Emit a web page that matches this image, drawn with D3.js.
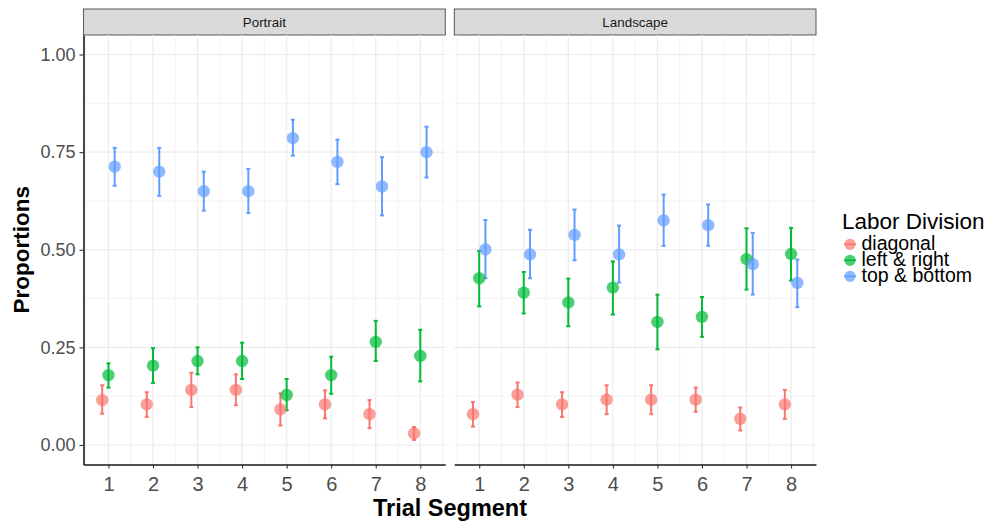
<!DOCTYPE html>
<html>
<head>
<meta charset="utf-8">
<script src="https://cdn.jsdelivr.net/npm/d3@7/dist/d3.min.js"></script>
<style>
  body { margin: 0; background: #fff; }
  svg { display: block; font-family: "Liberation Sans", Arial, sans-serif; }
</style>
</head>
<body>
<svg id="chart"></svg>
<script>
// data
var segments = [1, 2, 3, 4, 5, 6, 7, 8];
var facets = ["Portrait", "Landscape"];
var divisions = ["diagonal", "left & right", "top & bottom"];
var yTicks = [0, 0.25, 0.5, 0.75, 1];

var portraitDiagonal   = [0.115, 0.104, 0.141, 0.141, 0.091, 0.104, 0.079, 0.030];
var portraitDiagonalLo = [0.080, 0.072, 0.097, 0.102, 0.050, 0.068, 0.043, 0.013];
var portraitDiagonalHi = [0.153, 0.135, 0.185, 0.181, 0.132, 0.140, 0.115, 0.046];

var portraitLeftRight   = [0.179, 0.203, 0.215, 0.215, 0.128, 0.179, 0.264, 0.228];
var portraitLeftRightLo = [0.147, 0.159, 0.181, 0.169, 0.089, 0.131, 0.215, 0.163];
var portraitLeftRightHi = [0.209, 0.248, 0.250, 0.262, 0.169, 0.226, 0.318, 0.295];

var portraitTopBottom   = [0.713, 0.700, 0.650, 0.650, 0.786, 0.725, 0.662, 0.750];
var portraitTopBottomLo = [0.664, 0.638, 0.600, 0.594, 0.741, 0.668, 0.588, 0.685];
var portraitTopBottomHi = [0.761, 0.761, 0.700, 0.707, 0.833, 0.782, 0.737, 0.815];

var landscapeDiagonal   = [0.079, 0.129, 0.104, 0.116, 0.116, 0.116, 0.067, 0.104];
var landscapeDiagonalLo = [0.047, 0.097, 0.072, 0.079, 0.079, 0.085, 0.037, 0.067];
var landscapeDiagonalHi = [0.110, 0.160, 0.135, 0.153, 0.153, 0.147, 0.096, 0.141];

var landscapeLeftRight   = [0.427, 0.390, 0.365, 0.403, 0.315, 0.328, 0.476, 0.489];
var landscapeLeftRightLo = [0.355, 0.337, 0.304, 0.334, 0.245, 0.277, 0.398, 0.421];
var landscapeLeftRightHi = [0.497, 0.443, 0.426, 0.470, 0.385, 0.379, 0.555, 0.556];

var landscapeTopBottom   = [0.501, 0.488, 0.538, 0.488, 0.575, 0.563, 0.463, 0.415];
var landscapeTopBottomLo = [0.427, 0.427, 0.473, 0.416, 0.510, 0.510, 0.385, 0.353];
var landscapeTopBottomHi = [0.576, 0.551, 0.603, 0.562, 0.641, 0.616, 0.543, 0.475];

// build long-format rows
function rows(facet, division, mean, lo, hi) {
    return segments.map((s, i) => ({facet: facet, division: division, seg: s, mean: mean[i], lo: lo[i], hi: hi[i]}));
}
var data = [].concat(
    rows("Portrait", "diagonal", portraitDiagonal, portraitDiagonalLo, portraitDiagonalHi),
    rows("Portrait", "left & right", portraitLeftRight, portraitLeftRightLo, portraitLeftRightHi),
    rows("Portrait", "top & bottom", portraitTopBottom, portraitTopBottomLo, portraitTopBottomHi),
    rows("Landscape", "diagonal", landscapeDiagonal, landscapeDiagonalLo, landscapeDiagonalHi),
    rows("Landscape", "left & right", landscapeLeftRight, landscapeLeftRightLo, landscapeLeftRightHi),
    rows("Landscape", "top & bottom", landscapeTopBottom, landscapeTopBottomLo, landscapeTopBottomHi)
);

var width = 991, height = 523;
var plotTop = 35, plotBottom = 464.5;

var svg = d3.select("#chart")
    .attr("width", width)
    .attr("height", height);

var facetScale = d3.scaleBand()
    .domain(facets)
    .range([83.5, 816])
    .paddingInner(0.0243);
var bw = facetScale.bandwidth();

var x = d3.scaleLinear().domain([0.44, 8.56]).range([0, bw]);
var y = d3.scaleLinear().domain([-0.05, 1.05]).range([plotBottom, plotTop]);

var color = d3.scaleOrdinal()
    .domain(divisions)
    .range(["#F8766D", "#00BA38", "#619CFF"]);
var dodge = d3.scaleOrdinal()
    .domain(divisions)
    .range([-0.14, 0, 0.14]);

var minorX = d3.range(0.5, 9, 1);
var minorY = [0.125, 0.375, 0.625, 0.875];

facets.forEach(function(f, fi) {
    var g = svg.append("g").attr("transform", `translate(${facetScale(f)},0)`);

    // strip
    g.append("rect")
        .attr("x", 0).attr("y", 9)
        .attr("width", bw).attr("height", plotTop - 9)
        .attr("fill", "#d9d9d9")
        .attr("stroke", "#333")
        .attr("stroke-width", 0.8);
    g.append("text")
        .attr("x", bw / 2).attr("y", 27)
        .attr("text-anchor", "middle")
        .attr("font-size", "13.4px")
        .attr("fill", "#1a1a1a")
        .text(f);

    // grid
    g.selectAll(".minx").data(minorX).enter().append("line")
        .attr("x1", d => x(d)).attr("x2", d => x(d))
        .attr("y1", plotTop).attr("y2", plotBottom)
        .attr("stroke", "#ebebeb").attr("stroke-width", 0.6);
    g.selectAll(".miny").data(minorY).enter().append("line")
        .attr("x1", 0).attr("x2", bw)
        .attr("y1", d => y(d)).attr("y2", d => y(d))
        .attr("stroke", "#ebebeb").attr("stroke-width", 0.6);
    g.selectAll(".majx").data(segments).enter().append("line")
        .attr("x1", d => x(d)).attr("x2", d => x(d))
        .attr("y1", plotTop).attr("y2", plotBottom)
        .attr("stroke", "#ebebeb").attr("stroke-width", 1.2);
    g.selectAll(".majy").data(yTicks).enter().append("line")
        .attr("x1", 0).attr("x2", bw)
        .attr("y1", d => y(d)).attr("y2", d => y(d))
        .attr("stroke", "#ebebeb").attr("stroke-width", 1.2);

    var fd = data.filter(d => d.facet === f);

    // error bars
    var eb = g.selectAll(".eb").data(fd).enter().append("g")
        .attr("stroke", d => color(d.division))
        .attr("stroke-width", 2);
    eb.append("line")
        .attr("x1", d => x(d.seg + dodge(d.division)))
        .attr("x2", d => x(d.seg + dodge(d.division)))
        .attr("y1", d => y(d.lo)).attr("y2", d => y(d.hi));
    eb.append("line")
        .attr("x1", d => x(d.seg + dodge(d.division) - 0.045))
        .attr("x2", d => x(d.seg + dodge(d.division) + 0.045))
        .attr("y1", d => y(d.lo)).attr("y2", d => y(d.lo));
    eb.append("line")
        .attr("x1", d => x(d.seg + dodge(d.division) - 0.045))
        .attr("x2", d => x(d.seg + dodge(d.division) + 0.045))
        .attr("y1", d => y(d.hi)).attr("y2", d => y(d.hi));

    // points
    g.selectAll(".pt").data(fd).enter().append("circle")
        .attr("cx", d => x(d.seg + dodge(d.division)))
        .attr("cy", d => y(d.mean))
        .attr("r", 6.2)
        .attr("fill", d => color(d.division))
        .attr("fill-opacity", 0.7);

    // x axis
    var xa = g.append("g")
        .attr("transform", `translate(0,${plotBottom})`)
        .call(d3.axisBottom(x).tickValues(segments).tickSize(4).tickSizeOuter(0).tickPadding(8.5));
    xa.select(".domain").attr("stroke", "#1a1a1a").attr("stroke-width", 1.6);
    xa.selectAll(".tick line").attr("stroke", "#333").attr("stroke-width", 1.1);
    xa.selectAll(".tick text")
        .attr("font-size", "20px")
        .attr("font-family", "Liberation Sans, Arial, sans-serif")
        .attr("fill", "#4d4d4d");

    // y axis only on first facet
    if (fi === 0) {
        var ya = g.append("g")
            .call(d3.axisLeft(y).tickValues(yTicks).tickFormat(d3.format(".2f")).tickSize(4).tickSizeOuter(0).tickPadding(4));
        ya.select(".domain").attr("stroke", "#1a1a1a").attr("stroke-width", 1.6);
        ya.selectAll(".tick line").attr("stroke", "#333").attr("stroke-width", 1.1);
        ya.selectAll(".tick text")
            .attr("font-size", "18px")
            .attr("font-family", "Liberation Sans, Arial, sans-serif")
            .attr("fill", "#4d4d4d");
    }
});

// axis titles
svg.append("text")
    .attr("x", 450).attr("y", 516)
    .attr("text-anchor", "middle")
    .attr("font-size", "23.5px")
    .attr("font-weight", "bold")
    .attr("fill", "#000")
    .text("Trial Segment");

svg.append("text")
    .attr("transform", `translate(29,${(plotTop + plotBottom) / 2}) rotate(-90)`)
    .attr("text-anchor", "middle")
    .attr("font-size", "22.5px")
    .attr("font-weight", "bold")
    .attr("fill", "#000")
    .text("Proportions");

// legend
var legend = svg.append("g").attr("transform", "translate(842,0)");
legend.append("text")
    .attr("x", 0).attr("y", 229)
    .attr("font-size", "22.5px")
    .attr("fill", "#000")
    .text("Labor Division");

var items = legend.selectAll(".item").data(divisions).enter().append("g")
    .attr("transform", (d, i) => `translate(0,${244.3 + i * 16})`);
items.append("circle")
    .attr("cx", 8).attr("cy", 0).attr("r", 5.6)
    .attr("fill", d => color(d))
    .attr("fill-opacity", 0.7);
items.append("line")
    .attr("x1", 2).attr("x2", 14)
    .attr("y1", 0).attr("y2", 0)
    .attr("stroke", d => color(d))
    .attr("stroke-width", 1.6);
items.append("text")
    .attr("x", 19.5).attr("y", 5.7)
    .attr("font-size", "19.5px")
    .attr("fill", "#000")
    .text(d => d);
</script>
</body>
</html>
